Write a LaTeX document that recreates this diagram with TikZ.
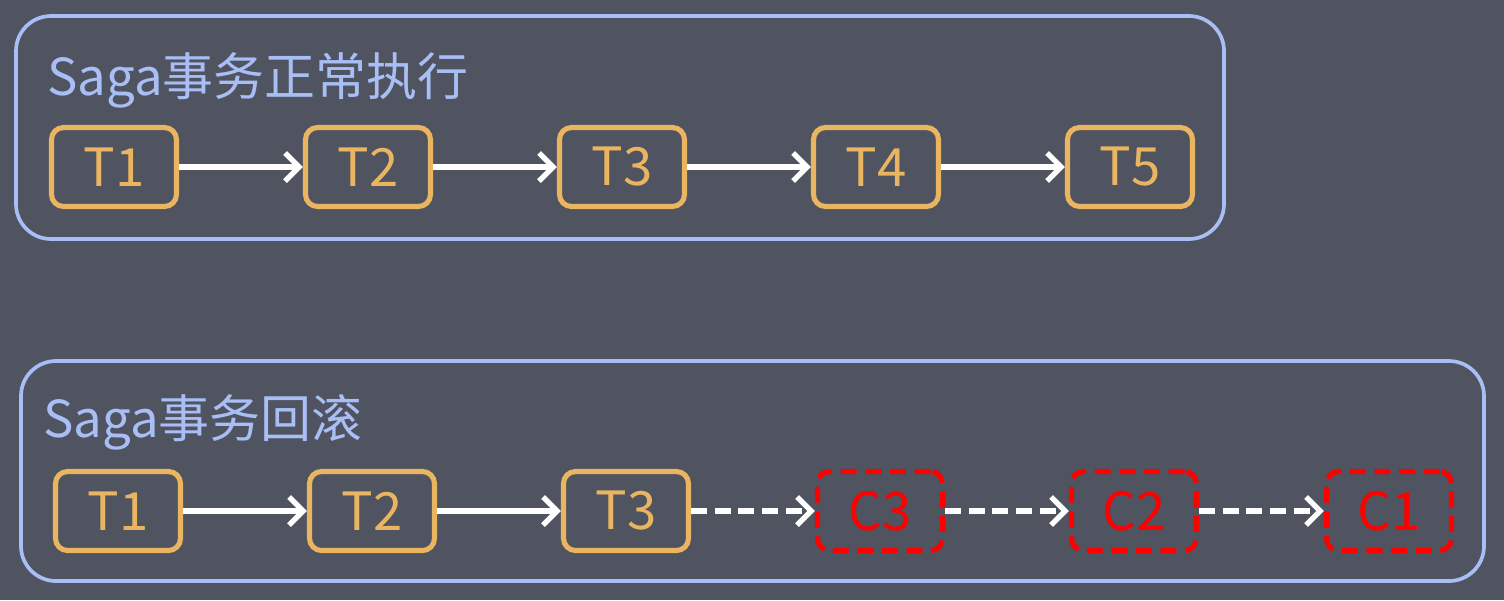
\documentclass[tikz,border=0pt]{standalone}
\usepackage{fontspec}
\setmainfont{Noto Sans CJK SC}
\usepackage{tikz}
\usetikzlibrary{arrows.meta}
\usetikzlibrary{positioning}
\definecolor{bgcol}{RGB}{80,83,96}
\definecolor{framecol}{RGB}{168,190,245}
\definecolor{stepcol}{RGB}{233,181,96}
\definecolor{undocol}{RGB}{255,0,0}
\tikzset{
    frame/.style={
        draw=framecol,
        line width=2.1pt,
        rounded corners=0.7cm
    },
    title/.style={
        anchor=base west,
        inner sep=0pt,
        text=framecol,
        font=\fontsize{29}{34}\selectfont
    },
    tstep/.style={
        draw=stepcol,
        line width=2.9pt,
        rounded corners=0.24cm,
        minimum width=2.5cm,
        minimum height=1.58cm,
        text=stepcol,
        font=\fontsize{30}{34}\selectfont
    },
    cstep/.style={
        tstep,
        draw=undocol,
        text=undocol,
        dash pattern=on 9pt off 5pt
    },
    flow/.style={
        draw=white,
        line width=3.1pt,
        -{Straight Barb[length=8pt,width=16pt,line width=3.1pt]}
    },
    undoflow/.style={
        flow,
        dash pattern=on 9pt off 4.5pt
    }
}

\begin{document}
\begin{tikzpicture}[x=0.02cm, y=-0.02cm]
  % Background
  \fill[bgcol] (0,0) rectangle (1504,600);
  \useasboundingbox (0,0) rectangle (1504,600);

  % Normal run
  \draw[frame] (16,16) rectangle (1224,239);
  \node[title] (ttl1) at (47,95) {Saga事务正常执行};

  \node[tstep] (a1) at (114,167) {T1};
  \node[tstep] (a2) at (368,167) {T2};
  \node[tstep] (a3) at (622,167) {T3};
  \node[tstep] (a4) at (876,167) {T4};
  \node[tstep] (a5) at (1130,167) {T5};

  \draw[flow] (a1) -- (a2);
  \draw[flow] (a2) -- (a3);
  \draw[flow] (a3) -- (a4);
  \draw[flow] (a4) -- (a5);

  % Rollback
  \draw[frame] (21,361) rectangle (1484,581);
  \node[title] (ttl2) at (43,437) {Saga事务回滚};

  \node[tstep] (b1) at (118,511) {T1};
  \node[tstep] (b2) at (372,511) {T2};
  \node[tstep] (b3) at (626,511) {T3};
  \node[cstep] (c3) at (880,511) {C3};
  \node[cstep] (c2) at (1134,511) {C2};
  \node[cstep] (c1) at (1389,511) {C1};

  \draw[flow] (b1) -- (b2);
  \draw[flow] (b2) -- (b3);
  \draw[undoflow] (b3) -- (c3);
  \draw[undoflow] (c3) -- (c2);
  \draw[undoflow] (c2) -- (c1);
\end{tikzpicture}
\end{document}
